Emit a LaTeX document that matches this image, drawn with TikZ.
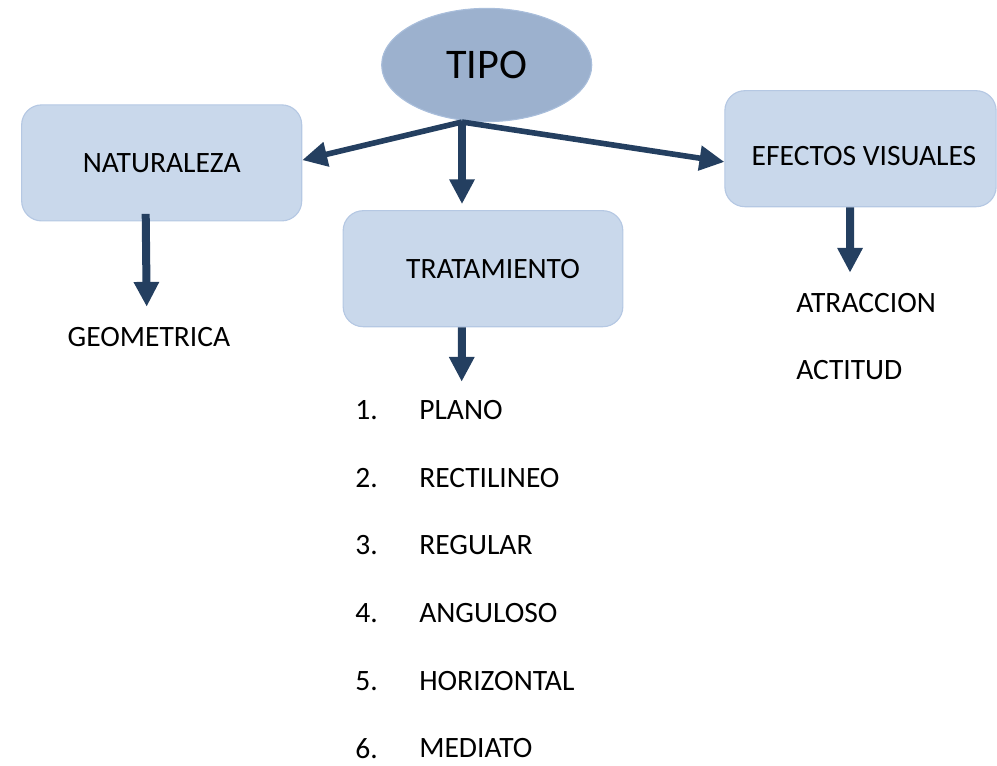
\documentclass[tikz,border=0pt]{standalone}
\usepackage{fontspec}
\setmainfont{Carlito}
\usepackage{tikz}
\usetikzlibrary{positioning,arrows.meta,shapes.geometric}

\definecolor{boxfill}{HTML}{C9D8EB}
\definecolor{boxline}{HTML}{B5C8E3}
\definecolor{ovalfill}{HTML}{9CB1CE}
\definecolor{ovalline}{HTML}{A9BEDB}
\definecolor{arrowc}{HTML}{243F60}

\begin{document}
\begin{tikzpicture}[
    x=0.025cm, y=-0.025cm,
    font=\fontsize{21}{25}\selectfont,
    box/.style={draw=boxline, fill=boxfill, line width=0.8pt, rounded corners=0.5cm,
                minimum height=2.9cm, inner sep=0pt},
    oval/.style={ellipse, draw=ovalline, fill=ovalfill, line width=0.8pt,
                 minimum width=5.25cm, minimum height=2.83cm, inner sep=0pt,
                 font=\fontsize{30}{36}\selectfont},
    lbl/.style={inner sep=0pt},
    arr/.style={-{Triangle[length=0.62cm,width=0.6cm]}, line width=0.2cm, draw=arrowc},
    thin arr/.style={arr, line width=0.14cm},
  ]
    \useasboundingbox (0,0) rectangle (997,766);

    \node[oval] (tipo) at (486.7,65) {TIPO};
    \node[box, minimum width=7cm]  (nat)  at (161.7,162.9) {NATURALEZA};
    \node[box, minimum width=6.99cm] (trat) at (483,268.7) {\hspace*{0.5cm}TRATAMIENTO};
    \node[box, minimum width=6.78cm] (ev)   at (860.5,148.7) {};
    \node[lbl] (evtext) at (864,156) {EFECTOS VISUALES};

    \node[lbl] (geo) at (149,337) {GEOMETRICA};
    \node[lbl, anchor=west] (atr) at (796,302.7) {ATRACCION};
    \node[lbl, anchor=west] (act) at (796,370) {ACTITUD};

    \foreach \i/\txt in {1/PLANO,2/RECTILINEO,3/REGULAR,4/ANGULOSO,5/HORIZONTAL,6/MEDIATO} {
      \node[lbl, anchor=west] (num\i) at (355,{410+67.7*(\i-1)}) {\i.};
      \node[lbl, anchor=west] (item\i) at (419,{410+67.7*(\i-1)}) {\txt};
    }

    \coordinate (hub) at (462,122);
    \coordinate (natend) at (146.7,306.7);
    \coordinate (tratend) at (461.7,381.7);
    \coordinate (evend) at (850,272.7);

    \draw[thin arr] (hub) -- ([yshift=0.07cm]nat.east);
    \draw[arr] (hub) -- (hub |- trat.north) [shorten >=0.15cm];
    \draw[thin arr] (hub) -- ([yshift=-0.33cm]ev.west);
    \draw[arr] ([shift={(-0.4cm,0.19cm)}]nat.south) -- (natend);
    \draw[arr] ([xshift=-0.53cm]trat.south) -- (tratend);
    \draw[arr] ([xshift=-0.26cm]ev.south) -- (evend);
  \end{tikzpicture}
\end{document}
